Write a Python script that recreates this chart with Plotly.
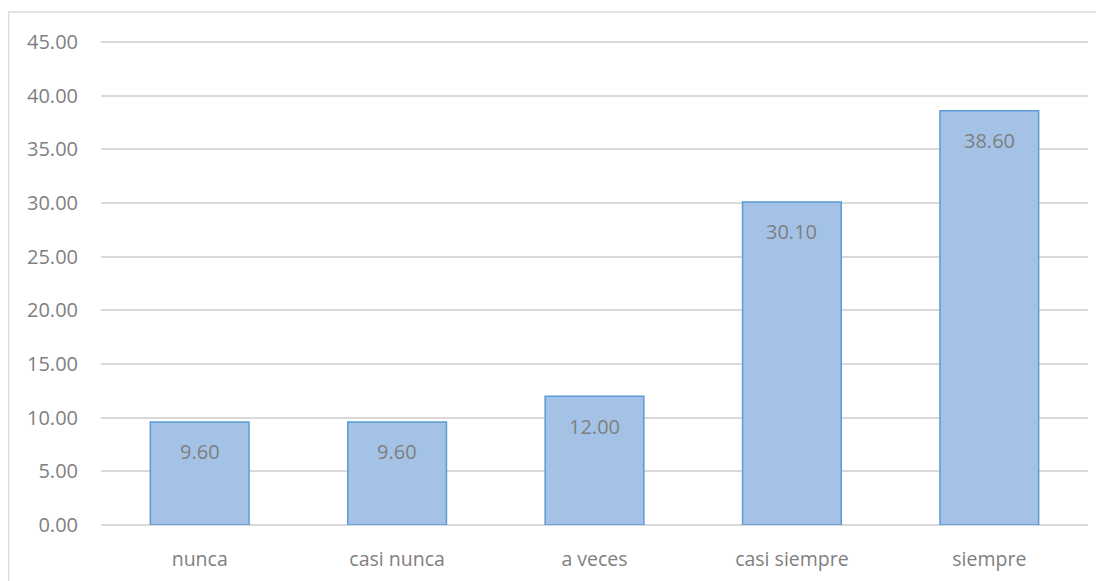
import plotly.graph_objects as go

categories = ["nunca", "casi nunca", "a veces", "casi siempre", "siempre"]
values = [9.60, 9.60, 12.00, 30.10, 38.60]
tick_vals = [0, 5, 10, 15, 20, 25, 30, 35, 40, 45]
tick_text = ["%.2f" % v for v in tick_vals]

OFF = 8  # page body margin
W, H = 1104, 581
Y45, Y0 = 42, 525          # page pixel rows of 45 and 0
scale = (Y0 - Y45) / 45.0
TOP_PAGE = 38              # leave room above the 45 gridline
ymax = 45 + (Y45 - TOP_PAGE) / scale
L, T = 101 - OFF, TOP_PAGE - OFF
R = W - (1088 - OFF)
B = H - (Y0 - OFF)
pw, ph = W - L - R, H - T - B

fig = go.Figure()
fig.add_trace(go.Bar(
    x=categories, y=values,
    marker=dict(color="#A4C2E6", line=dict(color="#5B9BD5", width=1.5)),
    width=0.5, hoverinfo="skip",
))
for c, v in zip(categories, values):
    fig.add_annotation(x=c, y=v, text="%.2f" % v, showarrow=False,
                       yanchor="middle", yshift=-30,
                       font=dict(color="#7F7F7F", size=20, family="Open Sans"))

def px_x(p):
    return (p - OFF - L) / pw

def px_y(p):
    return 1 - (p - OFF - T) / ph

fig.add_shape(type="line", xref="paper", yref="paper",
              x0=px_x(8), x1=px_x(W + 20), y0=px_y(12), y1=px_y(12),
              line=dict(color="#D9D9D9", width=1.5))
fig.add_shape(type="line", xref="paper", yref="paper",
              x0=px_x(8.5), x1=px_x(8.5), y0=px_y(12), y1=px_y(H + 20),
              line=dict(color="#D9D9D9", width=1.5))

fig.update_layout(
    width=W, height=H,
    margin=dict(l=L, r=R, t=T, b=B),
    paper_bgcolor="white", plot_bgcolor="white",
    showlegend=False,
    font=dict(family="Open Sans", color="#7F7F7F", size=19),
    xaxis=dict(showgrid=False, showline=False, ticks="", ticklabelstandoff=20,
               tickfont=dict(size=19.5, color="#7F7F7F")),
    yaxis=dict(range=[0, ymax], tickvals=tick_vals, ticktext=tick_text,
               showgrid=True, gridcolor="#D9D9D9", gridwidth=1.5,
               zeroline=True, zerolinecolor="#D9D9D9", zerolinewidth=1.5,
               showline=False, ticks="", ticklabelstandoff=22,
               tickfont=dict(size=20, color="#7F7F7F")),
)
fig.write_html("out.html")
